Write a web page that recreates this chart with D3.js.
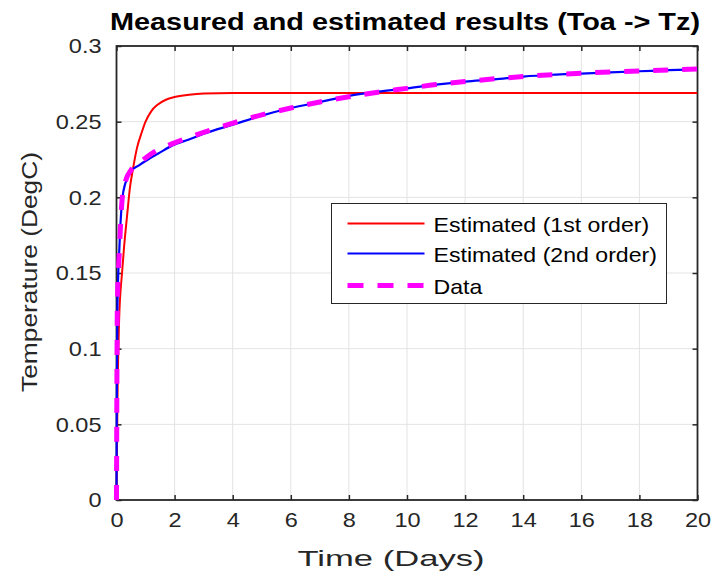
<!DOCTYPE html>
<html>
<head>
<meta charset="utf-8">
<script src="https://cdn.jsdelivr.net/npm/d3@7"></script>
<style>
  body { margin: 0; background: #fff; }
  text { font-family: "Liberation Sans", Arial, sans-serif; }
</style>
</head>
<body>
<div id="chart"></div>
<script>
// values (time in days, temperature in DegC)
const firstOrderT = [0, 0.03, 0.09, 0.19, 0.26, 0.37, 0.46, 0.56, 0.71, 0.87, 1.0, 1.2, 1.4, 1.7, 2, 2.5, 3, 4, 6, 10, 20];
const firstOrderV = [0, 0.06, 0.119, 0.15, 0.167, 0.189, 0.206, 0.218, 0.233, 0.243, 0.25, 0.257, 0.261, 0.2645, 0.2663, 0.2678, 0.2686, 0.269, 0.269, 0.269, 0.269];

const secondOrderT = [0, 0.01, 0.03, 0.1, 0.15, 0.2, 0.3, 0.4, 0.53, 0.76, 1, 1.44, 2, 2.47, 3, 4, 5, 6, 7, 8, 9, 10, 11, 12, 13, 14, 15, 16, 17, 18, 19, 20];
const secondOrderV = [0, 0.06, 0.125, 0.167, 0.187, 0.199, 0.209, 0.214, 0.218, 0.221, 0.224, 0.229, 0.235, 0.238, 0.242, 0.248, 0.254, 0.259, 0.263, 0.267, 0.2698, 0.272, 0.2745, 0.2765, 0.278, 0.2798, 0.281, 0.2818, 0.2826, 0.2833, 0.284, 0.2846];

const dataT = [0, 0.01, 0.03, 0.1, 0.15, 0.2, 0.3, 0.5, 0.8, 1.3, 2, 3, 4, 5, 6, 7, 8, 9, 10, 11, 12, 14, 16, 18, 20];
const dataV = [0, 0.06, 0.13, 0.165, 0.186, 0.2, 0.21, 0.218, 0.223, 0.23, 0.236, 0.243, 0.249, 0.2545, 0.259, 0.263, 0.2665, 0.2695, 0.272, 0.2745, 0.2765, 0.2798, 0.282, 0.2835, 0.2848];

const xTicks = [0, 2, 4, 6, 8, 10, 12, 14, 16, 18, 20];
const yTicks = [0, 0.05, 0.1, 0.15, 0.2, 0.25, 0.3];
const legendLabels = ['Estimated (1st order)', 'Estimated (2nd order)', 'Data'];

const W = 713, H = 577;
const margin = {top: 46, right: 15.5, bottom: 77, left: 116.5};
const width = W - margin.left - margin.right,
      height = H - margin.top - margin.bottom;
const axisColor = '#262626';

const svg = d3.select('#chart').append('svg')
    .attr('width', W).attr('height', H);

const g = svg.append('g')
    .attr('transform', 'translate(' + margin.left + ',' + margin.top + ')');

let x = d3.scaleLinear().domain([0, 20]).range([0, width]);
let y = d3.scaleLinear().domain([0, 0.3]).range([height, 0]);

// the reference font runs wider than Liberation Sans, so stretch text a bit
const widen = (sel, k) => sel.each(function () {
    let len = this.getComputedTextLength();
    d3.select(this).attr('textLength', len * k).attr('lengthAdjust', 'spacingAndGlyphs');
});

// grid
g.append('g').selectAll('line').data(xTicks.slice(1, -1)).enter().append('line')
    .attr('x1', d => x(d)).attr('x2', d => x(d))
    .attr('y1', 0).attr('y2', height)
    .attr('stroke', '#e3e3e3').attr('stroke-width', 1);
g.append('g').selectAll('line').data(yTicks.slice(1, -1)).enter().append('line')
    .attr('y1', d => y(d)).attr('y2', d => y(d))
    .attr('x1', 0).attr('x2', width)
    .attr('stroke', '#e3e3e3').attr('stroke-width', 1);

// axes, ticks pointing inward on all four sides
const fmtY = d => d === 0 ? '0' : String(+d.toFixed(2));
const styleAxis = sel => {
    sel.select('.domain').remove();
    sel.selectAll('line').attr('stroke', axisColor).attr('stroke-width', 1.5);
    sel.selectAll('text').attr('fill', axisColor).style('font-size', '21px').call(widen, 1.12);
};

g.append('g').attr('transform', 'translate(0,' + height + ')')
    .call(d3.axisBottom(x).tickValues(xTicks).tickSize(-5).tickPadding(12))
    .call(styleAxis);
g.append('g')
    .call(d3.axisLeft(y).tickValues(yTicks).tickFormat(fmtY).tickSize(-5).tickPadding(15))
    .call(styleAxis);
g.append('g')
    .call(d3.axisTop(x).tickValues(xTicks).tickSize(-5).tickFormat(''))
    .call(styleAxis);
g.append('g').attr('transform', 'translate(' + width + ',0)')
    .call(d3.axisRight(y).tickValues(yTicks).tickSize(-5).tickFormat(''))
    .call(styleAxis);

g.append('rect')
    .attr('width', width).attr('height', height)
    .attr('fill', 'none').attr('stroke', axisColor).attr('stroke-width', 1.8);

// curves
const toPts = (ts, vs) => ts.map((t, i) => [t, vs[i]]);
const line = d3.line().x(d => x(d[0])).y(d => y(d[1])).curve(d3.curveMonotoneX);

g.append('clipPath').attr('id', 'clip').append('rect')
    .attr('x', -4).attr('y', 0).attr('width', width + 4).attr('height', height);

const plot = g.append('g').attr('clip-path', 'url(#clip)');

plot.append('path').datum(toPts(firstOrderT, firstOrderV))
    .attr('d', line).attr('fill', 'none')
    .attr('stroke', '#ff0000').attr('stroke-width', 2);
plot.append('path').datum(toPts(secondOrderT, secondOrderV))
    .attr('d', line).attr('fill', 'none')
    .attr('stroke', '#0000ff').attr('stroke-width', 2.2);
plot.append('path').datum(toPts(dataT, dataV))
    .attr('d', line).attr('fill', 'none')
    .attr('stroke', '#ff00ff').attr('stroke-width', 5)
    .attr('stroke-dasharray', '15,14');

// labels
svg.append('text')
    .attr('x', 405).attr('y', 30)
    .attr('text-anchor', 'middle')
    .style('font-size', '23px').style('font-weight', 'bold')
    .attr('fill', '#000')
    .attr('textLength', 590).attr('lengthAdjust', 'spacingAndGlyphs')
    .text('Measured and estimated results (Toa -> Tz)');

svg.append('text')
    .attr('x', 391).attr('y', 566)
    .attr('text-anchor', 'middle')
    .style('font-size', '22px').attr('fill', axisColor)
    .attr('textLength', 187).attr('lengthAdjust', 'spacingAndGlyphs')
    .text('Time (Days)');

svg.append('text')
    .attr('transform', 'translate(37,272)rotate(-90)')
    .attr('text-anchor', 'middle')
    .style('font-size', '22px').attr('fill', axisColor)
    .attr('textLength', 240).attr('lengthAdjust', 'spacingAndGlyphs')
    .text('Temperature (DegC)');

// legend
const legend = svg.append('g').attr('transform', 'translate(331.5,203.5)');
legend.append('rect')
    .attr('width', 335).attr('height', 100)
    .attr('fill', '#fff').attr('stroke', axisColor).attr('stroke-width', 1);

const legendStyles = [
    {color: '#ff0000', w: 2, dash: null},
    {color: '#0000ff', w: 2.2, dash: null},
    {color: '#ff00ff', w: 5, dash: '16,14'}
];
const rowY = [20, 50, 82];

legendLabels.forEach((label, i) => {
    let s = legendStyles[i];
    let ln = legend.append('line')
        .attr('x1', 16).attr('x2', 93)
        .attr('y1', rowY[i]).attr('y2', rowY[i])
        .attr('stroke', s.color).attr('stroke-width', s.w);
    if (s.dash) ln.attr('stroke-dasharray', s.dash);
    legend.append('text')
        .attr('x', 102).attr('y', rowY[i] + 8)
        .style('font-size', '21px').attr('fill', '#000')
        .text(label)
        .call(widen, 1.1);
});
</script>
</body>
</html>
